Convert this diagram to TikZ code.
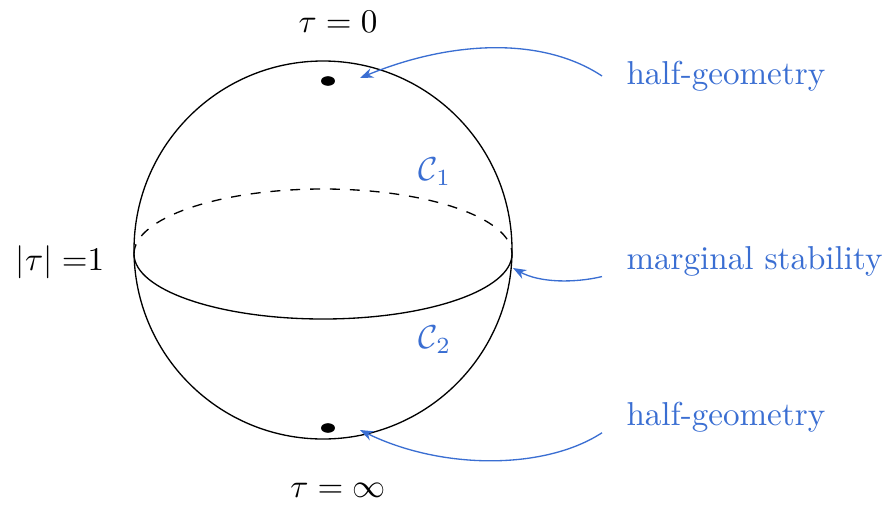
\documentclass[tikz,border=0pt]{standalone}
\usepackage{amsmath,amssymb}
\usepackage{tikz}
\usetikzlibrary{arrows.meta, positioning, shapes.geometric}
\definecolor{labelblue}{RGB}{58,110,210}

\begin{document}
\begin{tikzpicture}[
        x=0.302pt, y=-0.302pt,
        dot/.style={ellipse, fill=black, inner sep=0pt, minimum width=4.2pt, minimum height=2.9pt},
        tag/.style={anchor=west, text=labelblue, inner xsep=7.2pt, inner ysep=0pt},
        pointer/.style={labelblue, -{Stealth[length=4pt,width=3pt]}}
    ]
        \useasboundingbox (0,0) rectangle (885,504);

        % sphere and equator
        \draw (323,250) circle (189);
        \draw (134,254) arc[start angle=180, end angle=360, x radius=189, y radius=-65];
        \draw[dashed] (134,254) arc[start angle=180, end angle=0, x radius=189, y radius=-65];

        % poles
        \node[dot] (top) at (328,81) {};
        \node[dot] (bot) at (328,428) {};

        \node (t0) at (338,22) {$\tau = 0$};
        \node (tinf) at (338,490) {$\tau = \infty$};
        \node (t1) at (60,262) {$|\tau| =$1};

        \node[text=labelblue] (c1) at (435,172) {$\mathcal{C}_1$};
        \node[text=labelblue] (c2) at (435,340) {$\mathcal{C}_2$};

        % labels on the right
        \node[tag] (hg1) at (602,76) {half-geometry};
        \node[tag] (ms) at (602,261) {marginal stability};
        \node[tag] (hg2) at (602,417) {half-geometry};

        \coordinate (end1) at (360,78);
        \coordinate (end2) at (513,268);
        \coordinate (end3) at (360,430);

        \draw[pointer] (hg1.west) .. controls (540,35) and (447,42) .. (end1);
        \draw[pointer] (ms.south west) .. controls (575,283) and (540,283) .. (end2);
        \draw[pointer] (hg2.south west) .. controls (545,470) and (442,470) .. (end3);
    \end{tikzpicture}
\end{document}
